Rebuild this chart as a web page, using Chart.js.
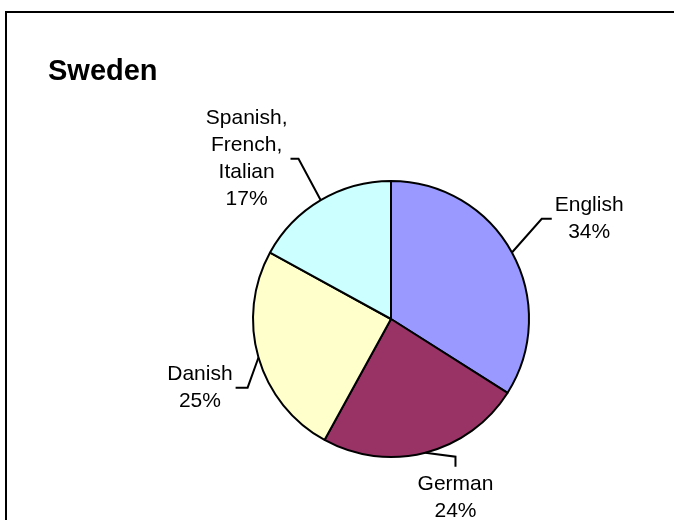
<!DOCTYPE html>
<html>
<head>
<meta charset="utf-8">
<script src="https://cdn.jsdelivr.net/npm/chart.js@4.4.1/dist/chart.umd.min.js"></script>
<style>
  html, body { margin: 0; padding: 0; background: #fff; }
  canvas { display: block; }
</style>
</head>
<body>
<canvas id="chart" width="674" height="520"></canvas>
<script>
const categories = ["English", "German", "Danish", "Spanish, French, Italian"];
const shares = [34, 24, 25, 17];
const sliceColors = ["#9999FF", "#993366", "#FFFFCC", "#CCFFFF"];
const labelLines = [["English"], ["German"], ["Danish"], ["Spanish,", "French,", "Italian"]];

// leader lines: bend point is turned (deg) from the slice middle and pushed out past the rim,
// then a short tail runs toward the text block
const leaders = [
  { turn: -4.8, out: 43, tail: [10, 0] },
  { turn: -10.7, out: 14, tail: [0, 10] },
  { turn: -9.4, out: 21, tail: [-12, 0] },
  { turn: 0.6, out: 47, tail: [-8, 0] },
];

const FONT = '"Liberation Sans", Arial, sans-serif';

// white sheet with the frame and the title
const framePlugin = {
  id: "frame",
  beforeDraw(chart) {
    const ctx = chart.ctx;
    ctx.save();
    ctx.fillStyle = "#fff";
    ctx.fillRect(0, 0, chart.width, chart.height);
    ctx.strokeStyle = "#000";
    ctx.lineWidth = 2;
    ctx.strokeRect(6, 12, chart.width + 20, chart.height + 20);
    ctx.fillStyle = "#000";
    ctx.font = "bold 29px " + FONT;
    ctx.textBaseline = "alphabetic";
    ctx.textAlign = "left";
    ctx.fillText("Sweden", 48, 80);
    ctx.restore();
  },
};

// callout labels with elbow leader lines
const calloutPlugin = {
  id: "callouts",
  afterDatasetsDraw(chart) {
    const ctx = chart.ctx;
    const meta = chart.getDatasetMeta(0);
    const lh = 27;
    ctx.save();
    ctx.font = "21px " + FONT;
    ctx.fillStyle = "#000";
    ctx.strokeStyle = "#000";
    ctx.lineWidth = 2;
    ctx.textAlign = "center";
    ctx.textBaseline = "middle";
    meta.data.forEach((arc, i) => {
      const { x, y, startAngle, endAngle, outerRadius } = arc.getProps(
        ["x", "y", "startAngle", "endAngle", "outerRadius"], true);
      const mid = (startAngle + endAngle) / 2;
      const ld = leaders[i];
      const p0 = [x + Math.cos(mid) * outerRadius, y + Math.sin(mid) * outerRadius];
      const a = mid + ld.turn * Math.PI / 180;
      const r = outerRadius + ld.out;
      const p1 = [x + Math.cos(a) * r, y + Math.sin(a) * r];
      const p2 = [p1[0] + ld.tail[0], p1[1] + ld.tail[1]];
      ctx.beginPath();
      ctx.moveTo(p0[0], p0[1]);
      ctx.lineTo(p1[0], p1[1]);
      ctx.lineTo(p2[0], p2[1]);
      ctx.stroke();

      const lines = labelLines[i].concat([shares[i] + "%"]);
      const maxW = Math.max(...lines.map((t) => ctx.measureText(t).width));
      let cx, top;
      if (ld.tail[0] !== 0) {
        cx = p2[0] + Math.sign(ld.tail[0]) * (3 + maxW / 2);
        top = p2[1] - (lines.length * lh) / 2;
      } else {
        cx = p2[0];
        top = p2[1] + 4;
      }
      lines.forEach((t, k) => ctx.fillText(t, cx, top + lh * k + lh / 2));
    });
    ctx.restore();
  },
};

new Chart(document.getElementById("chart"), {
  type: "pie",
  data: {
    labels: categories,
    datasets: [{
      data: shares,
      backgroundColor: sliceColors,
      borderColor: "#000",
      borderWidth: 2,
      hoverOffset: 0,
    }],
  },
  options: {
    responsive: false,
    animation: false,
    layout: { padding: { left: 252, right: 144, top: 180, bottom: 62 } },
    plugins: {
      legend: { display: false },
      tooltip: { enabled: false },
      title: { display: false },
    },
  },
  plugins: [framePlugin, calloutPlugin],
});
</script>
</body>
</html>
